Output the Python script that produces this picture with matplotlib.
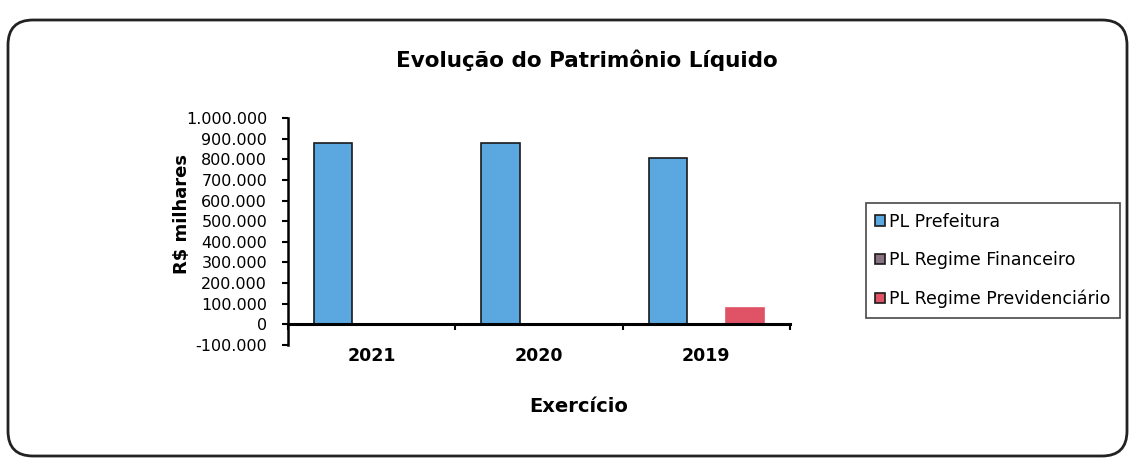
import matplotlib
matplotlib.use("Agg")
import matplotlib.pyplot as plt
import numpy as np
from matplotlib.patches import FancyBboxPatch
from matplotlib.ticker import FixedLocator, FuncFormatter

plt.rcParams['font.family'] = ['DejaVu Sans']

anos = ['2021', '2020', '2019']
series = ['PL Prefeitura', 'PL Regime Financeiro', 'PL Regime Previdenciário']
pl_prefeitura = [880000, 878000, 805000]
pl_financeiro = [0, 0, 0]
pl_previdenciario = [0, 0, 80000]
cores = ['#5ba7e0', '#8a7282', '#e05266']

fig = plt.figure(figsize=(11.3, 4.68), dpi=100)

# moldura arredondada
frame = FancyBboxPatch((0.08, 0.12), 11.19, 4.36, boxstyle='round,pad=0,rounding_size=0.25',
                       transform=fig.dpi_scale_trans, fill=False, edgecolor='#222222', lw=2)
fig.patches.append(frame)

ax = fig.add_axes([0.2549, 0.2628, 0.4442, 0.4851])

x = np.arange(len(anos)) + 0.5
w = 0.23
valores = [pl_prefeitura, pl_financeiro, pl_previdenciario]
for i, (nome, vals, cor) in enumerate(zip(series, valores, cores)):
    ax.bar(x + (i - 1) * w, vals, w, color=cor, edgecolor='#1a1a1a' if i == 0 else cor,
           lw=1.2, label=nome, zorder=2)

ax.set_xlim(0, len(anos))
ax.set_ylim(-100000, 1000000)
ax.set_yticks(np.arange(-100000, 1000001, 100000))
ax.yaxis.set_major_formatter(FuncFormatter(lambda v, p: f"{v:,.0f}".replace(',', '.')))
ax.tick_params(axis='y', direction='out', length=4, width=1.5, labelsize=11.5, pad=11)

ax.spines['top'].set_visible(False)
ax.spines['right'].set_visible(False)
ax.spines['left'].set_linewidth(1.8)
ax.spines['bottom'].set_position(('data', 0))
ax.spines['bottom'].set_linewidth(2.2)

ax.xaxis.set_major_locator(FixedLocator(np.arange(len(anos) + 1)))
ax.xaxis.set_major_formatter(FuncFormatter(lambda v, p: ''))
ax.xaxis.set_minor_locator(FixedLocator(x))
ax.set_xticklabels(anos, minor=True, fontweight='bold', fontsize=12.5)
ax.tick_params(axis='x', which='major', direction='out', length=4, width=1.5)
ax.tick_params(axis='x', which='minor', length=0, pad=16)

ax.set_ylabel('R$ milhares', fontsize=13, fontweight='bold')
ax.yaxis.set_label_coords(-0.193, 0.577)
ax.set_xlabel('Exercício', fontsize=14, fontweight='bold')
ax.xaxis.set_label_coords(0.58, -0.229)

fig.text(0.519, 1 - 60 / 468, 'Evolução do Patrimônio Líquido', ha='center', va='center',
         fontsize=15.5, fontweight='bold')

leg = fig.legend(loc='upper left', bbox_to_anchor=(0.766, 0.566), borderaxespad=0,
                 fontsize=12.5, frameon=True, fancybox=False, edgecolor='#1a1a1a',
                 handlelength=0.55, handleheight=0.55, handletextpad=0.25, labelspacing=1.18,
                 borderpad=0.55)
leg.get_frame().set_linewidth(1.2)
for h in leg.legend_handles:
    h.set_edgecolor('#1a1a1a')

fig.savefig('out.png', dpi=100)
